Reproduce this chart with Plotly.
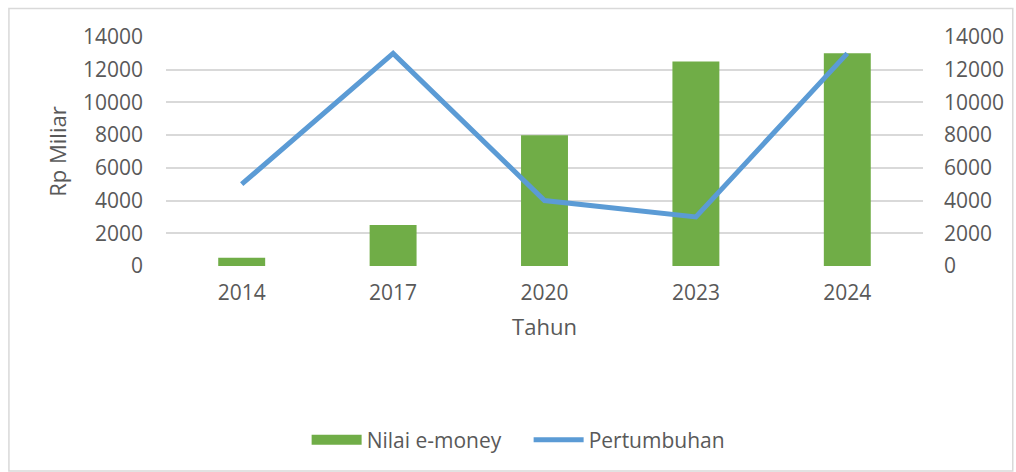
import plotly.graph_objects as go

years = ["2014", "2017", "2020", "2023", "2024"]
nilai_emoney = [500, 2500, 8000, 12500, 13000]
pertumbuhan = [5000, 13000, 4000, 3000, 13000]
tick_vals = [0, 2000, 4000, 6000, 8000, 10000, 12000, 14000]
tick_text = ["0", "2000", "4000", "6000", "8000", "10000", "12000", "14000"]

W, H = 1016, 472
L, R, T, B = 166, 91, 37, 206
pw, ph = W - L - R, H - T - B

font = dict(family="Open Sans", size=21, color="#595959")
tfont = dict(family="Open Sans", size=22, color="#595959")

fig = go.Figure()
fig.add_trace(go.Bar(x=years, y=nilai_emoney, name="Nilai e-money",
                     marker=dict(color="#70AD47", line=dict(width=0)),
                     yaxis="y", showlegend=False))
fig.add_trace(go.Scatter(x=[None], y=[None], name="Nilai e-money",
                         mode="lines", line=dict(color="#70AD47", width=14),
                         yaxis="y", showlegend=True))
fig.add_trace(go.Scatter(x=years, y=pertumbuhan, name="Pertumbuhan",
                         mode="lines", line=dict(color="#5B9BD5", width=5),
                         yaxis="y2"))

def px2x(p):
    return (p - L) / pw

def px2y(p):
    return (H - B - p) / ph

fig.update_layout(
    width=W, height=H,
    margin=dict(l=L, r=R, t=T, b=B),
    paper_bgcolor="white", plot_bgcolor="white",
    font=font,
    bargap=0.69,
    showlegend=True,
    legend=dict(orientation="h", x=px2x(307), xanchor="left",
                y=px2y(440), yanchor="middle", font=font,
                itemwidth=50, tracegroupgap=0, entrywidth=157),
    xaxis=dict(type="category", showgrid=False, zeroline=False,
               showline=False, ticks="", tickfont=font,
               ticklabelstandoff=12,
               title=dict(text="Tahun", font=tfont, standoff=14)),
    yaxis=dict(range=[0, 14000], tickvals=tick_vals, ticktext=tick_text,
               showgrid=True,
               gridcolor="#D9D9D9", gridwidth=1.5, zeroline=False,
               showline=False, ticks="", tickfont=font,
               ticklabelstandoff=22,
               title=dict(text="Rp Miliar", font=tfont, standoff=10)),
    yaxis2=dict(range=[0, 14000], tickvals=tick_vals, ticktext=tick_text,
                overlaying="y",
                side="right", showgrid=False, zeroline=False,
                showline=False, ticks="", tickfont=font,
                ticklabelstandoff=20),
    shapes=[dict(type="rect", xref="paper", yref="paper",
                 x0=px2x(8.5), x1=px2x(1015), y0=px2y(471), y1=px2y(8.5),
                 line=dict(color="#D9D9D9", width=1.5), fillcolor="rgba(0,0,0,0)",
                 layer="below")],
)

fig.write_html("out.html")
